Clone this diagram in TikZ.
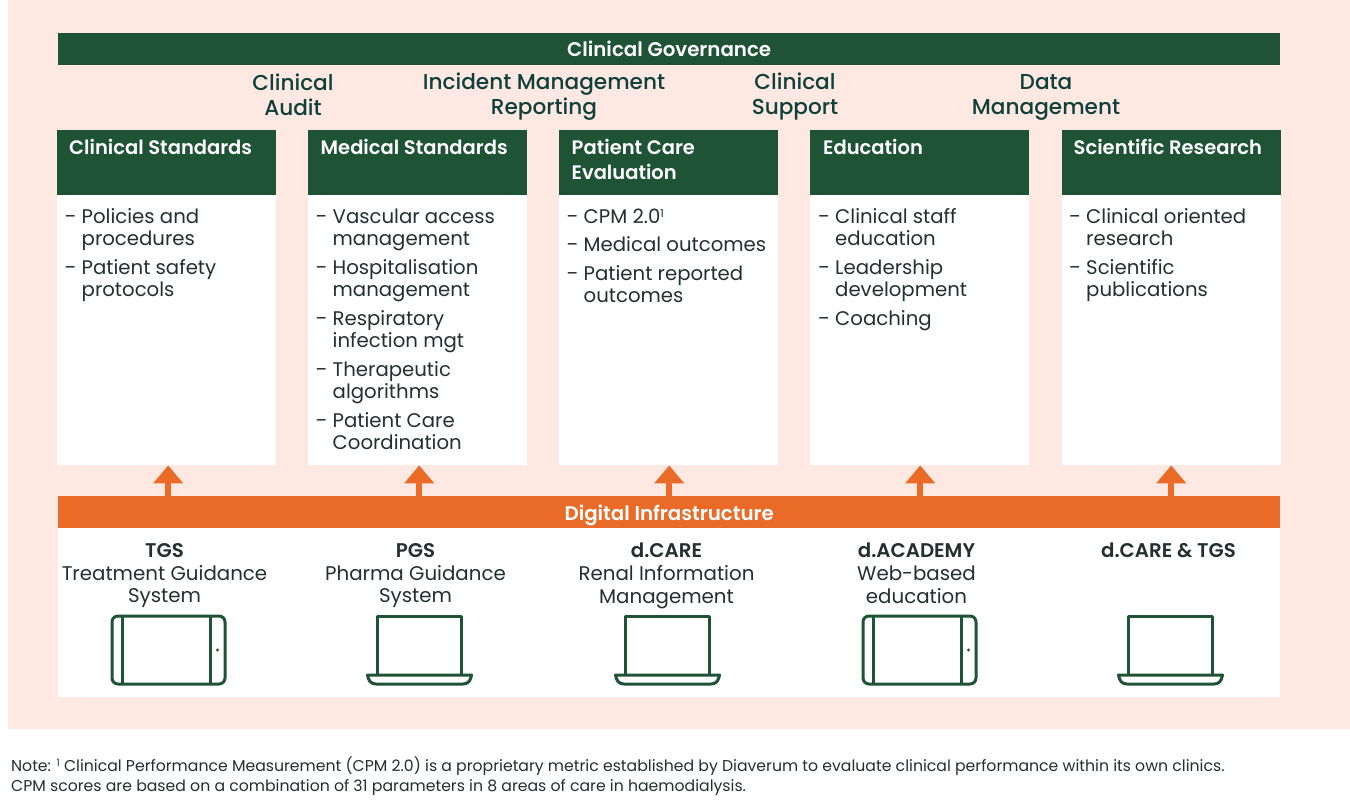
\documentclass[tikz,border=0pt]{standalone}
\usepackage{fontspec}
\usepackage{graphicx}
\setmainfont{Poppins}
\newfontfamily\medfont{Poppins Medium}
\newfontfamily\semifont{Poppins SemiBold}
\usetikzlibrary{arrows.meta}
\definecolor{peach}{HTML}{FDE9E1}
\definecolor{govgreen}{HTML}{1E5335}
\definecolor{infraorange}{HTML}{E96B27}
\definecolor{headink}{HTML}{103F3C}
\definecolor{bodyink}{HTML}{22302E}
\newcommand{\di}[1]{\makebox[17pt][l]{\scalebox{0.85}[1]{–}}#1}
\newcommand{\dc}[1]{\hspace*{17pt}#1}
\tikzset{
 x=1pt,y=-1pt,
 barbox/.style={minimum width=1222pt,minimum height=32pt,inner sep=0pt,text=white,font=\fontsize{19.8}{23}\semifont},
 headbox/.style={fill=govgreen,anchor=north west,minimum width=219pt,minimum height=65pt,inner sep=0pt},
 bodybox/.style={fill=white,anchor=north west,minimum width=219pt,minimum height=270pt,inner sep=0pt},
 headtext/.style={anchor=north west,inner sep=0pt,text=white,align=left,font=\fontsize{19.5}{25}\semifont},
 listtext/.style={anchor=north west,inner sep=0pt,text=bodyink,align=left,font=\fontsize{19.7}{22.6}\selectfont},
 govtext/.style={anchor=center,inner sep=0pt,text=headink,align=center,font=\fontsize{21.6}{25}\medfont},
 systext/.style={anchor=north,inner sep=0pt,text=bodyink,align=center,font=\fontsize{19.8}{22.8}\selectfont},
 upflow/.style={draw=infraorange,line width=5.5pt,-{Triangle[width=29pt,length=18pt,fill=infraorange]}},
 icon/.style={draw=govgreen,line width=3pt,line join=round},
 notetext/.style={anchor=north west,inner sep=0pt,text=bodyink,align=left,font=\fontsize{15.7}{20}\selectfont},
}
\newcommand{\tablet}[1]{%
 \begin{scope}[shift={(#1,616)}]
  \draw[icon,rounded corners=6pt] (0,0) rectangle (113,68);
  \draw[icon] (10,0) -- (10,68) (98,0) -- (98,68);
  \fill[govgreen] (105.5,34) circle (1.7pt);
 \end{scope}}
\newcommand{\laptop}[1]{%
 \begin{scope}[shift={(#1,616)}]
  \draw[icon] (11,59) -- (11,0) -- (95.5,0) -- (95.5,59);
  \draw[icon] (1.5,59) -- (105.5,59) .. controls (104.5,65) and (102,68) .. (97,68) -- (10,68) .. controls (5,68) and (2.5,65) .. (1.5,59) -- cycle;
 \end{scope}}
\begin{document}
\begin{tikzpicture}
\useasboundingbox (0,0) rectangle (1350,806);
\fill[white] (0,0) rectangle (1350,806);
\fill[peach] (8,0) rectangle (1350,729);

\node[barbox,fill=govgreen,anchor=north west] (gov) at (58,33) {\raisebox{-7pt}[0pt][0pt]{Clinical Governance}};

\node[govtext] (g1) at (293,95) {Clinical\\Audit};
\node[govtext] (g2) at (544,97) {Incident Management\\Reporting};
\node[govtext] (g3) at (795,97) {Clinical\\Support};
\node[govtext] (g4) at (1046,97) {Data\\Management};

\node[headbox] (h1) at (57,130) {};
\node[headbox] (h2) at (308,130) {};
\node[headbox] (h3) at (559,130) {};
\node[headbox] (h4) at (810,130) {};
\node[headbox] (h5) at (1061.5,130) {};
\node[bodybox] (b1) at (57,195) {};
\node[bodybox] (b2) at (308,195) {};
\node[bodybox] (b3) at (559,195) {};
\node[bodybox] (b4) at (810,195) {};
\node[bodybox] (b5) at (1061.5,195) {};

\node[headtext] (ht1) at (69,139.5) {Clinical Standards};
\node[headtext] (ht2) at (320.5,139.5) {Medical Standards};
\node[headtext] (ht3) at (571.5,139.5) {Patient Care\\Evaluation};
\node[headtext] (ht4) at (823,139.5) {Education};
\node[headtext] (ht5) at (1073.5,139.5) {Scientific Research};

\node[listtext] (l1) at (64.5,208) {\di{Policies and}\\\dc{procedures}\\[5.8pt]\di{Patient safety}\\\dc{protocols}};
\node[listtext] (l2) at (315.5,208.5) {\di{Vascular access}\\\dc{management}\\[5.8pt]\di{Hospitalisation}\\\dc{management}\\[5.8pt]\di{Respiratory}\\\dc{infection mgt}\\[5.8pt]\di{Therapeutic}\\\dc{algorithms}\\[5.8pt]\di{Patient Care}\\\dc{Coordination}};
\node[listtext] (l3) at (566.5,208.5) {\di{CPM 2.0\raisebox{6pt}{\fontsize{11}{11}\selectfont 1}}\\[5.8pt]\di{Medical outcomes}\\[5.8pt]\di{Patient reported}\\\dc{outcomes}};
\node[listtext] (l4) at (818,208) {\di{Clinical staff}\\\dc{education}\\[5.8pt]\di{Leadership}\\\dc{development}\\[5.8pt]\di{Coaching}};
\node[listtext] (l5) at (1069,208) {\di{Clinical oriented}\\\dc{research}\\[5.8pt]\di{Scientific}\\\dc{publications}};

\fill[white] (58,528) rectangle (1280,697);
\node[barbox,fill=infraorange,anchor=north west] (infra) at (58,496) {\raisebox{-8pt}[0pt][0pt]{Digital Infrastructure}};

\foreach \n/\d in {1/1.5,2/1.5,3/0.5,4/0.5,5/0}{
  \draw[upflow] ([xshift=\d pt]infra.north -| b\n.south) -- ([xshift=\d pt]b\n.south);
}

\node[systext] (s1) at (164.5,543) {{\semifont TGS}\\Treatment Guidance\\System};
\node[systext] (s2) at (415.5,543) {{\semifont PGS}\\Pharma Guidance\\System};
\node[systext] (s3) at (666.5,543) {{\semifont d.CARE}\\Renal Information\\Management};
\node[systext] (s4) at (916.5,543) {{\semifont d.ACADEMY}\\Web-based\\education};
\node[systext] (s5) at (1168.5,543) {{\semifont d.CARE \& TGS}};

\tablet{112}
\laptop{366}
\laptop{614}
\tablet{863}
\laptop{1117}

\node[notetext] (note) at (11,757) {Note: \raisebox{5pt}{\fontsize{10}{10}\selectfont 1} Clinical Performance Measurement (CPM 2.0) is a proprietary metric established by Diaverum to evaluate clinical performance within its own clinics.\\CPM scores are based on a combination of 31 parameters in 8 areas of care in haemodialysis.};
\end{tikzpicture}
\end{document}
